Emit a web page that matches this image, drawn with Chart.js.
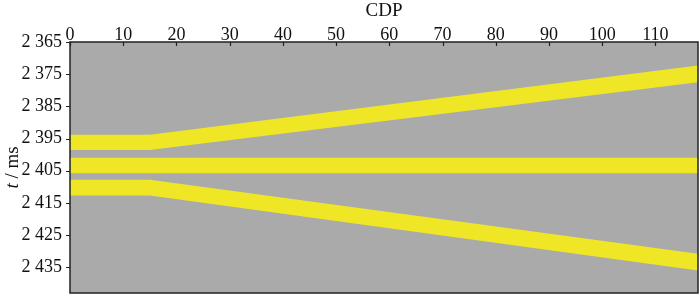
<!DOCTYPE html>
<html>
<head>
<meta charset="utf-8">
<script src="https://cdn.jsdelivr.net/npm/chart.js@4"></script>
<style>
html,body{margin:0;padding:0;background:#fff;overflow:hidden;}
canvas{display:block;}
</style>
</head>
<body>
<canvas id="c" width="700" height="295" style="width:700px;height:295px;"></canvas>
<script>
// ---- data ----
const cdp = [0, 15, 118];
const band1Top = [2393.8, 2393.8, 2372.3];
const band1Bottom = [2398.6, 2398.6, 2377.5];
const band2Top = [2401.0, 2401.0, 2401.0];
const band2Bottom = [2405.8, 2405.8, 2405.8];
const band3Top = [2407.8, 2407.8, 2430.8];
const band3Bottom = [2412.7, 2412.7, 2436.0];
const xTicks = [0, 10, 20, 30, 40, 50, 60, 70, 80, 90, 100, 110];
const yTicks = [2365, 2375, 2385, 2395, 2405, 2415, 2425, 2435];
const yTickLabels = ['2 365', '2 375', '2 385', '2 395', '2 405', '2 415', '2 425', '2 435'];

const GRAY = '#aaaaaa';
const YELLOW = '#efe726';
const AXIS = '#222222';
const FONT = '"Liberation Serif", "Times New Roman", serif';

function pts(arr) { return cdp.map((x, i) => ({ x: x, y: arr[i] })); }
function boundary(arr, fill) {
  return {
    data: pts(arr), showLine: true, borderWidth: 0, borderColor: 'rgba(0,0,0,0)',
    pointRadius: 0, backgroundColor: YELLOW, fill: fill, tension: 0
  };
}

const framePlugin = {
  id: 'frame',
  beforeDatasetsDraw(chart) {
    const { ctx, chartArea: a } = chart;
    ctx.save();
    ctx.fillStyle = GRAY;
    ctx.fillRect(a.left, a.top, a.right - a.left, a.bottom - a.top);
    ctx.restore();
  },
  afterDraw(chart) {
    const { ctx, chartArea: a, scales } = chart;
    ctx.save();
    ctx.strokeStyle = AXIS;
    ctx.lineWidth = 1.5;
    ctx.strokeRect(a.left, a.top, a.right - a.left, a.bottom - a.top);
    ctx.lineWidth = 1.2;
    ctx.beginPath();
    xTicks.forEach(v => {
      const x = Math.round(scales.x.getPixelForValue(v)) + 0.5;
      ctx.moveTo(x, a.top); ctx.lineTo(x, a.top + 4);
    });
    yTicks.forEach(v => {
      const y = Math.round(scales.y.getPixelForValue(v)) + 0.5;
      ctx.moveTo(a.left - 4, y); ctx.lineTo(a.left, y);
    });
    ctx.stroke();
    // y-axis title: italic t + " / ms"
    const cy = (a.top + a.bottom) / 2;
    ctx.translate(13, cy);
    ctx.rotate(-Math.PI / 2);
    ctx.fillStyle = '#111';
    ctx.textBaseline = 'middle';
    const fIt = 'italic 19px ' + FONT, fRg = '19px ' + FONT;
    ctx.font = fIt; const w1 = ctx.measureText('t').width;
    ctx.font = fRg; const w2 = ctx.measureText(' / ms').width;
    let x0 = -(w1 + w2) / 2;
    ctx.font = fIt; ctx.textAlign = 'left'; ctx.fillText('t', x0, 0);
    ctx.font = fRg; ctx.fillText(' / ms', x0 + w1, 0);
    ctx.restore();
  }
};

new Chart(document.getElementById('c'), {
  type: 'scatter',
  data: {
    datasets: [
      boundary(band1Top, false), boundary(band1Bottom, '-1'),
      boundary(band2Top, false), boundary(band2Bottom, '-1'),
      boundary(band3Top, false), boundary(band3Bottom, '-1')
    ]
  },
  options: {
    responsive: false, maintainAspectRatio: false, animation: false,
    devicePixelRatio: 1,
    layout: { padding: { left: 0, right: 2, top: 0, bottom: 2 } },
    plugins: { legend: { display: false }, tooltip: { enabled: false } },
    scales: {
      x: {
        type: 'linear', position: 'top', min: 0, max: 118,
        afterBuildTicks: s => { s.ticks = xTicks.map(v => ({ value: v })); },
        afterFit: s => { s.height = 42; s.paddingLeft = 0; s.paddingRight = 0; },
        grid: { display: false, drawTicks: false },
        border: { display: false },
        ticks: { color: '#111', font: { family: FONT, size: 18 }, padding: -4, maxRotation: 0 },
        title: { display: true, text: 'CDP', color: '#111', font: { family: FONT, size: 19 }, padding: { top: 0, bottom: 0 } }
      },
      y: {
        type: 'linear', reverse: true, min: 2365, max: 2443,
        afterBuildTicks: s => { s.ticks = yTicks.map(v => ({ value: v })); },
        afterFit: s => { s.width = 70; s.paddingTop = 0; s.paddingBottom = 0; },
        grid: { display: false, drawTicks: false },
        border: { display: false },
        ticks: {
          color: '#111', font: { family: FONT, size: 18 }, padding: 8,
          callback: (v) => { const i = yTicks.indexOf(v); return i >= 0 ? yTickLabels[i] : ''; }
        }
      }
    }
  },
  plugins: [framePlugin]
});
</script>
</body>
</html>
